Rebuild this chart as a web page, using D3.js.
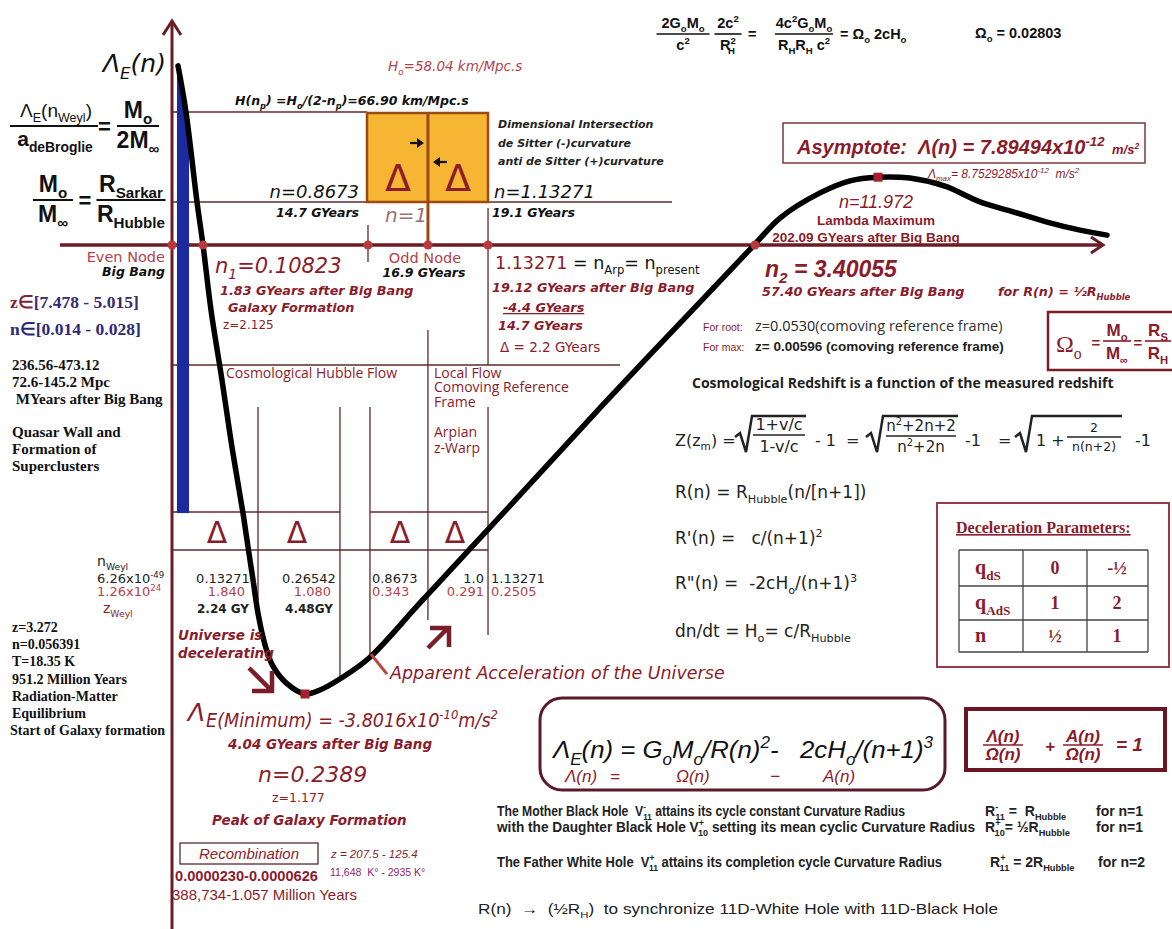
<!DOCTYPE html>
<html>
<head>
<meta charset="utf-8">
<script src="https://cdn.jsdelivr.net/npm/d3@7"></script>
<style>
  body { margin: 0; background: #fff; }
  svg { display: block; }
  text { white-space: pre; }
</style>
</head>
<body>
<script>
const width = 1172, height = 929;

// ---------------- values ----------------
// Λ_E(n) curve: u = place along the (schematic) n axis, v = Λ_E in diagram units (minimum = -100)
const curveU = [0.64, 1.49, 2.66, 3.30, 4.15, 5.32, 6.38, 7.55, 8.09, 8.62, 9.15, 9.89, 10.74, 12.23, 14.15,
                15.74, 18.19, 21.06, 26.38, 31.70, 36.70, 45.53, 56.17, 62.02, 64.68, 68.94, 72.13, 75.11,
                78.51, 82.23, 85.96, 89.47, 93.09, 96.60, 99.47];
const curveV = [39.9, 29.6, 9.6, 0, -14.5, -30.1, -45.0, -59.7, -67.3, -74.6, -82.0, -89.0, -93.8, -97.7, -100,
                -99.1, -96.2, -91.8, -79.7, -67.7, -56.4, -36.3, -12.7, 0.2, 6.0, 11.6, 14.3, 15.1,
                14.9, 13.1, 9.6, 7.4, 5.1, 3.3, 2.2];

// nodes on the n axis: Big Bang, n1, n=0.8673, n=1, n=1.13271, n2
const nodeLabels = ["0", "0.10823", "0.8673", "1", "1.13271", "3.40055"];
const nodeU = [0, 3.30, 20.85, 27.23, 33.62, 62.02];
const minPoint = [14.15, -100];   // Λ_E minimum, n = 0.2389
const maxPoint = [75.11, 15.1];   // Λ maximum, n = 11.972
const blueBand = [0.53, 1.81, 39.9, -59.7]; // u0, u1, vTop, vBottom

// Weyl table under the axis
const weylN = ["0.13271", "0.26542", "0.8673", "1.0", "1.13271"];
const weylZ = ["1.840", "1.080", "0.343", "0.291", "0.2505"];
const weylGY = ["2.24 GY", "4.48GY"];

// deceleration parameters
const decelRows = [["q", "dS"], ["q", "AdS"], ["n", ""]];
const decelA = ["0", "1", "½"];
const decelB = ["-½", "2", "1"];

// ---------------- styles ----------------
const INK = "#111", RED = "#8a1c2b", RED2 = "#b3424e", AXIS = "#6b1c24", GRID = "#5e2b2b",
      DOT = "#b83a3f", BLUE = "#1b2a9e";
const SANS = "'DejaVu Sans', Verdana, sans-serif";
const SERIF = "'Liberation Serif', 'Times New Roman', serif";
const ARIAL = "'Liberation Sans', Arial, sans-serif";
const NARROW = "'Liberation Sans Narrow', 'Liberation Sans', sans-serif";
const OPEN = "'Open Sans', sans-serif";

const svg = d3.select("body").append("svg").attr("width", width).attr("height", height);
svg.append("rect").attr("width", width).attr("height", height).attr("fill", "#fff");

const x = d3.scaleLinear().domain([0, 100]).range([172, 1112]);
const y = d3.scaleLinear().domain([-100, 0]).range([694, 245]);
const curveLine = d3.line().x(p => x(p[0])).y(p => y(p[1])).curve(d3.curveCatmullRom.alpha(0.5));

function line(x1, y1, x2, y2, c, w) {
  return svg.append("line").attr("x1", x1).attr("y1", y1).attr("x2", x2).attr("y2", y2)
    .attr("stroke", c || GRID).attr("stroke-width", w || 1.3);
}

// text with sub/superscripts: parts = [[str, 'sub'|'sup', colour, dx], ...]
function txt(px, py, parts, o = {}) {
  const size = o.size || 14;
  const t = svg.append("text").attr("x", px).attr("y", py)
    .attr("font-size", size).attr("font-family", o.font || SANS)
    .attr("fill", o.color || INK).attr("text-anchor", o.anchor || "start");
  if (o.italic) t.attr("font-style", "italic");
  if (o.bold) t.attr("font-weight", "bold");
  if (o.len) t.attr("textLength", o.len).attr("lengthAdjust", "spacingAndGlyphs");
  if (o.underline) t.attr("text-decoration", "underline");
  if (typeof parts === "string") parts = [[parts]];
  let cur = 0;
  parts.forEach(p => {
    if (typeof p === "string") p = [p];
    const [s, m, c, dx] = p;
    const shift = m === "sub" ? size * 0.28 : m === "sup" ? -size * 0.42 : 0;
    const ts = t.append("tspan").text(s).attr("dy", shift - cur);
    if (m) ts.attr("font-size", size * 0.66);
    if (c) ts.attr("fill", c);
    if (dx) ts.attr("dx", dx);
    cur = shift;
  });
  return t;
}

function frac(cx, yb, w, top, bot, o, g1, g2) {
  txt(cx, yb - g1, top, Object.assign({}, o, {anchor: "middle"}));
  txt(cx, yb + g2, bot, Object.assign({}, o, {anchor: "middle"}));
  line(cx - w / 2, yb, cx + w / 2, yb, o.color || INK, o.barW || 1.6);
}

function arrow(d, c, w) {
  svg.append("path").attr("d", d).attr("fill", "none").attr("stroke", c).attr("stroke-width", w);
}

/* ---------------- grid lines ---------------- */
line(172, 112, 367, 112);
line(172, 202, 672, 202);
line(172, 365, 620, 365);
line(172, 512, x(17.87), 512);
line(x(21.06), 512, x(33.62), 512);
line(172, 550, x(33.62), 550);
line(x(20.85), 225, x(20.85), 262);
line(x(33.62), 208, x(33.62), 365);
line(x(27.23), 330, x(27.23), 620);
[[9.15, 600], [17.87, 680], [21.06, 655], [33.62, 635]].forEach(d => line(x(d[0]), 407, x(d[0]), d[1]));

/* ---------------- orange box ---------------- */
svg.append("rect").attr("x", 367).attr("y", 113).attr("width", 121).attr("height", 89)
  .attr("fill", "#f6b533").attr("stroke", "#9a4a12").attr("stroke-width", 2.5);
line(x(27.23), 113, x(27.23), 245, "#9a4a12", 3);
txt(398, 191, "Δ", {size: 38, color: RED, anchor: "middle"});
txt(458, 191, "Δ", {size: 38, color: RED, anchor: "middle"});
arrow("M410,143L421,143", "#111", 2.2);
svg.append("path").attr("d", "M417,138L424,143L417,148Z").attr("fill", "#111");
arrow("M436,162L447,162", "#111", 2.2);
svg.append("path").attr("d", "M440,157L433,162L440,167Z").attr("fill", "#111");

/* ---------------- Δ row ---------------- */
[217, 297, 400, 455].forEach(cx => txt(cx, 543, "Δ", {size: 30, color: RED, anchor: "middle"}));

/* ---------------- axes ---------------- */
line(172, 929, 172, 22, AXIS, 3);
arrow("M163,35L172,21L181,35", AXIS, 3);
line(60, y(0), 1101, y(0), AXIS, 3.5);
arrow("M1091,237L1103,245L1091,253", AXIS, 3);

/* ---------------- blue band, clipped to the left of the curve ---------------- */
const pts = curveU.map((u, i) => [u, curveV[i]]);
const leftBranch = pts.filter(p => p[0] <= minPoint[0]);
svg.append("clipPath").attr("id", "leftOfCurve").append("path")
  .attr("d", curveLine([[0, leftBranch[0][1]]].concat(leftBranch).concat([[0, -100]])) + "Z");
svg.append("rect").attr("clip-path", "url(#leftOfCurve)")
  .attr("x", x(blueBand[0])).attr("width", x(blueBand[1]) - x(blueBand[0]))
  .attr("y", y(blueBand[2])).attr("height", y(blueBand[3]) - y(blueBand[2]))
  .attr("fill", BLUE);

/* ---------------- curve ---------------- */
svg.append("path").datum(pts)
  .attr("d", curveLine)
  .attr("fill", "none").attr("stroke", "#000").attr("stroke-width", 5.5)
  .attr("stroke-linecap", "round").attr("stroke-linejoin", "round");

svg.selectAll("circle.node").data(nodeU).enter().append("circle")
  .attr("cx", d => x(d)).attr("cy", y(0)).attr("r", 4.5).attr("fill", DOT);
[minPoint, maxPoint].forEach(p => svg.append("rect")
  .attr("x", x(p[0]) - 4.5).attr("y", y(p[1]) - 4.5).attr("width", 9).attr("height", 9).attr("fill", "#a3202c"));

// apparent acceleration tick and arrows
line(x(21.06) + 1, y(-91.8) - 3, x(21.06) + 17, y(-91.8) + 17, "#c2413f", 3);
arrow("M249,668L271,690M252,691L272,691L272,671", "#7a1f2a", 4.5);
arrow("M428,648L448,628M430,628L449,628L449,647", "#7a1f2a", 4.5);

/* ---------------- top-left formulas ---------------- */
txt(103, 72, [["Λ"], ["E", "sub"], ["(n)"]], {size: 25, italic: true});
txt(56, 117, [["Λ"], ["E", "sub"], ["(n"], ["Weyl", "sub"], [")"]], {size: 19, font: ARIAL, anchor: "middle"});
line(10, 126, 98, 126, INK, 2);
txt(55, 146, [["a"], ["deBroglie", "sub"]], {size: 21, bold: true, font: ARIAL, anchor: "middle"});
txt(98, 134, "=", {size: 22, bold: true, font: ARIAL});
frac(138, 126, 42, [["M"], ["o", "sub"]], [["2M"], ["∞", "sub"]], {size: 23, bold: true, font: ARIAL, barW: 2}, 8, 22);
frac(53, 200, 40, [["M"], ["o", "sub"]], [["M"], ["∞", "sub"]], {size: 23, bold: true, font: ARIAL, barW: 2}, 8, 22);
txt(85, 208, "=", {size: 22, bold: true, font: ARIAL, anchor: "middle"});
frac(131, 200, 69, [["R"], ["Sarkar", "sub"]], [["R"], ["Hubble", "sub"]], {size: 23, bold: true, font: ARIAL, barW: 2}, 8, 22);

/* ---------------- top-centre labels ---------------- */
txt(388, 71, [["H"], ["o", "sub"], ["=58.04 km/Mpc.s"]], {size: 13.5, italic: true, color: RED2});
txt(235, 105, [["H(n"], ["p", "sub"], [") =H"], ["o", "sub"], ["/(2-n"], ["p", "sub"], [")=66.90 km/Mpc.s"]], {size: 12.5, italic: true, bold: true});
txt(498, 128, "Dimensional Intersection", {size: 11, italic: true, bold: true, color: "#222"});
txt(498, 147, "de Sitter (-)curvature", {size: 11, italic: true, bold: true, color: "#222"});
txt(498, 165, "anti de Sitter (+)curvature", {size: 11, italic: true, bold: true, color: "#222"});
txt(359, 198, "n=0.8673", {size: 18, italic: true, anchor: "end"});
txt(359, 217, "14.7 GYears", {size: 12.5, italic: true, bold: true, anchor: "end"});
txt(385, 222, "n=1", {size: 20, italic: true, color: "#a07070"});
txt(494, 198, "n=1.13271", {size: 18, italic: true});
txt(492, 217, "19.1 GYears", {size: 12.5, italic: true, bold: true});

/* ---------------- along the axis ---------------- */
txt(165, 262, "Even Node", {size: 14.5, color: RED2, anchor: "end"});
txt(165, 276, "Big Bang", {size: 12.5, italic: true, bold: true, anchor: "end"});
txt(215, 273, [["n"], ["1", "sub"], ["=" + nodeLabels[1]]], {size: 21, italic: true, color: RED});
txt(220, 295, "1.83 GYears after Big Bang", {size: 12.8, italic: true, bold: true, color: RED});
txt(228, 312, "Galaxy Formation", {size: 12.8, italic: true, bold: true, color: RED});
txt(223, 329, "z=2.125", {size: 12, color: RED});
txt(425, 263, "Odd Node", {size: 14.5, color: RED2, anchor: "middle"});
txt(424, 277, "16.9 GYears", {size: 12.5, italic: true, bold: true, anchor: "middle"});
txt(495, 269, [[nodeLabels[4], "", RED], [" = n"], ["Arp", "sub"], ["= n"], ["present", "sub"]], {size: 17.5});
txt(492, 292, "19.12 GYears after Big Bang", {size: 12.8, italic: true, bold: true, color: RED});
txt(503, 312, "-4.4 GYears", {size: 12.8, italic: true, bold: true, color: RED, underline: true});
txt(498, 330, "14.7 GYears", {size: 12.8, italic: true, bold: true, color: RED});
txt(500, 352, "Δ = 2.2 GYears", {size: 13.5, color: RED});
txt(226, 378, "Cosmological Hubble Flow", {size: 14, font: OPEN, color: RED});
txt(434, 378, "Local Flow", {size: 14, font: OPEN, color: RED});
txt(434, 392, "Comoving Reference", {size: 14, font: OPEN, color: RED});
txt(434, 407, "Frame", {size: 14, font: OPEN, color: RED});
txt(434, 437, "Arpian", {size: 14, font: OPEN, color: RED});
txt(434, 453, "z-Warp", {size: 14, font: OPEN, color: RED});

txt(765, 277, [["n"], ["2", "sub"], [" = " + nodeLabels[5]]], {size: 23, italic: true, bold: true, color: RED, font: ARIAL});
txt(762, 296, "57.40 GYears after Big Bang", {size: 12.8, italic: true, bold: true, color: RED});
txt(998, 296, [["for R(n) = ½R"], ["Hubble", "sub"]], {size: 12.8, italic: true, bold: true, color: RED});

/* ---------------- top-right ---------------- */
const fo = {size: 14.5, bold: true, font: ARIAL};
frac(683, 34, 53, [["2G"], ["o", "sub"], ["M"], ["o", "sub"]], [["c"], ["2", "sup"]], fo, 6, 16);
frac(728, 34, 27, [["2c"], ["2", "sup"]], [["R"], ["2", "sup"], ["H", "sub", null, -8]], fo, 6, 16);
txt(748, 39, "=", fo);
frac(804, 34, 58, [["4c"], ["2", "sup"], ["G"], ["o", "sub"], ["M"], ["o", "sub"]], [["R"], ["H", "sub"], ["R"], ["H", "sub"], [" c"], ["2", "sup"]], fo, 6, 16);
txt(840, 39, [["= Ω"], ["o", "sub"], [" 2cH"], ["o", "sub"]], fo);
txt(975, 38, [["Ω"], ["o", "sub"], [" = 0.02803"]], fo);

svg.append("rect").attr("x", 783).attr("y", 123).attr("width", 362).attr("height", 40)
  .attr("fill", "none").attr("stroke", "#7a3a40").attr("stroke-width", 1.5);
txt(797, 154, [["Asymptote:  Λ(n) = 7.89494x10"], ["-12", "sup"]], {size: 20, italic: true, bold: true, color: RED, font: ARIAL});
txt(1112, 154, [["m/s"], ["2", "sup"]], {size: 13, italic: true, bold: true, color: RED, font: ARIAL});
txt(928, 178, [["Λ"], ["max", "sub"], ["= 8.7529285x10"], ["-12", "sup"], ["  m/s"], ["2", "sup"]], {size: 12, italic: true, color: RED, font: ARIAL});
txt(876, 208, "n=11.972", {size: 18, italic: true, color: RED, font: ARIAL, anchor: "middle"});
txt(876, 225, "Lambda Maximum", {size: 13.5, bold: true, color: RED, font: ARIAL, anchor: "middle"});
txt(866, 242, "202.09 GYears after Big Bang", {size: 13.5, bold: true, color: RED, font: ARIAL, anchor: "middle"});

txt(703, 331, "For root:", {size: 10.5, color: RED, font: ARIAL});
txt(755, 331, [["z=", "", "#333"], ["0.0530", "", "#222"], ["(comoving reference frame)", "", "#333"]], {size: 14.5, font: OPEN});
txt(703, 351, "For max:", {size: 10.5, color: RED, font: ARIAL});
txt(755, 351, "z= 0.00596 (comoving reference frame)", {size: 13.5, bold: true, font: ARIAL, color: "#222"});

svg.append("rect").attr("x", 1048).attr("y", 312).attr("width", 130).attr("height", 58)
  .attr("fill", "none").attr("stroke", "#7a1f2a").attr("stroke-width", 2.5);
const om = {size: 17, bold: true, font: ARIAL, color: RED};
txt(1056, 352, [["Ω"], ["o", "sub"]], {size: 24, font: SERIF, color: RED});
txt(1096, 348, "=", Object.assign({}, om, {anchor: "middle", size: 15}));
frac(1117, 341, 28, [["M"], ["o", "sub"]], [["M"], ["∞", "sub"]], om, 5, 18);
txt(1138, 348, "=", Object.assign({}, om, {anchor: "middle", size: 15}));
frac(1158, 341, 26, [["R"], ["S", "sub"]], [["R"], ["H", "sub"]], om, 5, 18);

txt(692, 388, "Cosmological Redshift is a function of the measured redshift", {size: 14, bold: true, font: OPEN, color: "#222"});

// Z formula
const zf = {size: 16, color: "#222"};
txt(675, 446, [["Z(z"], ["m", "sub"], [") ="]], zf);
[[735, 806], [866, 958], [1015, 1122]].forEach(s => arrow(
  `M${s[0]},437L${s[0] + 5},433L${s[0] + 11},452L${s[0] + 17},416L${s[1]},416`, "#222", 2.5));
frac(779, 435, 52, "1+v/c", "1-v/c", zf, 5, 17);
txt(815, 446, "- 1", zf);
txt(846, 446, "=", zf);
frac(921, 436, 70, [["n"], ["2", "sup"], ["+2n+2"]], [["n"], ["2", "sup"], ["+2n"]], {size: 15, color: "#222"}, 5, 16);
txt(965, 446, "-1", zf);
txt(998, 446, "=", zf);
txt(1036, 446, "1 +", zf);
frac(1094, 437, 54, "2", "n(n+2)", {size: 12.5, color: "#222"}, 5, 14);
txt(1135, 446, "-1", zf);

const rf = {size: 17, color: "#222"};
txt(675, 498, [["R(n) = R"], ["Hubble", "sub"], ["(n/[n+1])"]], rf);
txt(675, 544, [["R'(n) =   c/(n+1)"], ["2", "sup"]], rf);
txt(675, 589, [["R\"(n) =  -2cH"], ["o", "sub"], ["/(n+1)"], ["3", "sup"]], rf);
txt(675, 637, [["dn/dt = H"], ["o", "sub"], ["= c/R"], ["Hubble", "sub"]], rf);

// deceleration parameters
svg.append("rect").attr("x", 937).attr("y", 503).attr("width", 232).attr("height", 164)
  .attr("fill", "none").attr("stroke", "#9a3a44").attr("stroke-width", 2);
txt(956, 533, "Deceleration Parameters:", {size: 16, bold: true, font: SERIF, color: RED, underline: true});
const colX = [959, 1023, 1087, 1148], rowY = [550, 586, 620, 652];
colX.forEach(cx => line(cx, rowY[0], cx, rowY[3], "#444", 1.3));
rowY.forEach(ry => line(colX[0], ry, colX[3], ry, "#444", 1.3));
decelRows.forEach((r, i) => {
  const cy = (rowY[i] + rowY[i + 1]) / 2 + 6;
  txt(975, cy, [[r[0]], [r[1], "sub"]], {size: 20, bold: true, font: SERIF, color: RED});
  txt(1055, cy, decelA[i], {size: 18, bold: true, font: SERIF, color: RED, anchor: "middle"});
  txt(1117, cy, decelB[i], {size: 18, bold: true, font: SERIF, color: RED, anchor: "middle"});
});

/* ---------------- left column ---------------- */
txt(10, 308, [["z∈", "", "#7a2540"], ["[7.478 - 5.015]"]], {size: 17.5, bold: true, font: SERIF, color: "#3a2a70"});
txt(10, 335, [["n∈", "", "#2a2a78"], ["[0.014 - 0.028]"]], {size: 17.5, bold: true, font: SERIF, color: "#2a2a78"});
["236.56-473.12", "72.6-145.2 Mpc", " MYears after Big Bang"].forEach((s, i) =>
  txt(12, 370 + i * 17, s, {size: 15, bold: true, font: SERIF}));
["Quasar Wall and", "Formation of", "Superclusters"].forEach((s, i) =>
  txt(12, 437 + i * 17, s, {size: 15, bold: true, font: SERIF}));
["z=3.272", "n=0.056391", "T=18.35 K", "951.2 Million Years", "Radiation-Matter", "Equilibrium", "Start of Galaxy formation"]
  .forEach((s, i) => txt(i === 6 ? 10 : 12, 632 + i * 17.2, s, {size: 14, bold: true, font: SERIF}));

txt(97, 566, [["n"], ["Weyl", "sub"]], {size: 14, color: "#222"});
txt(97, 583, [["6.26x10"], ["-49", "sup"]], {size: 13, color: "#222"});
txt(97, 596, [["1.26x10"], ["24", "sup"]], {size: 13, color: RED2});
txt(103, 613, [["z"], ["Weyl", "sub"]], {size: 14, color: RED});

// Weyl table values: [anchor x, text-anchor] per column
const weylPos = [[223, "middle"], [309, "middle"], [x(21.06) + 2, "start"], [x(33.62) - 4, "end"], [x(33.62) + 3, "start"]];
weylN.forEach((s, i) => {
  const [cx, an] = weylPos[i];
  txt(cx, 583, s, {size: 13, color: "#222", anchor: an});
  txt(i < 2 ? cx + 22 : cx, 596, weylZ[i], {size: 13, color: RED2, anchor: i < 2 ? "end" : an});
  if (i < 2) txt(cx, 613, weylGY[i], {size: 12, bold: true, color: "#222", anchor: "middle"});
});

/* ---------------- bottom-left ---------------- */
txt(178, 640, "Universe is", {size: 13.5, italic: true, bold: true, color: RED});
txt(178, 658, "decelerating", {size: 13.5, italic: true, bold: true, color: RED});
txt(390, 679, "Apparent Acceleration of the Universe", {size: 17.5, italic: true, color: RED});
txt(188, 721, "Λ", {size: 25, italic: true, color: RED});
txt(206, 727, [["E(Minimum) = -3.8016x10"], ["-10", "sup"], ["m/s"], ["2", "sup"]], {size: 19, italic: true, color: RED, len: 292});
txt(228, 749, "4.04 GYears after Big Bang", {size: 13.5, italic: true, bold: true, color: RED});
txt(258, 782, "n=0.2389", {size: 22, italic: true, color: RED});
txt(272, 802, "z=1.177", {size: 12.5, color: RED});
txt(212, 825, "Peak of Galaxy Formation", {size: 13.5, italic: true, bold: true, color: RED});
svg.append("rect").attr("x", 180).attr("y", 843).attr("width", 138).attr("height", 21)
  .attr("fill", "none").attr("stroke", "#5a2a2a").attr("stroke-width", 1.3);
txt(249, 859, "Recombination", {size: 15, italic: true, color: RED, font: ARIAL, anchor: "middle"});
txt(331, 858, "z = 207.5 - 125.4", {size: 11.5, italic: true, color: RED, font: ARIAL});
txt(175, 881, "0.0000230-0.0000626", {size: 14, color: RED, font: ARIAL, bold: true, len: 143});
txt(330, 876, "11,648  K° - 2935 K°", {size: 10.5, color: "#8a2a6a", font: ARIAL});
txt(172, 900, "388,734-1.057 Million Years", {size: 15, color: RED, font: ARIAL, len: 185});

/* ---------------- bottom formula boxes ---------------- */
svg.append("rect").attr("x", 540).attr("y", 698).attr("width", 405).attr("height", 92).attr("rx", 22)
  .attr("fill", "none").attr("stroke", "#5a1a2a").attr("stroke-width", 3);
txt(553, 758, [["Λ"], ["E", "sub"], ["(n) = G"], ["o", "sub"], ["M"], ["o", "sub"], ["/R(n)"], ["2", "sup"], ["-   2cH"], ["o", "sub"], ["/(n+1)"], ["3", "sup"]],
  {size: 24, italic: true, font: ARIAL, len: 380});
const sf = {size: 17, italic: true, color: RED, font: ARIAL};
txt(565, 782, "Λ(n)", sf); txt(610, 782, "=", sf); txt(676, 782, "Ω(n)", sf); txt(770, 782, "−", sf); txt(823, 782, "A(n)", sf);

svg.append("rect").attr("x", 966).attr("y", 709).attr("width", 199).attr("height", 61)
  .attr("fill", "none").attr("stroke", "#6b1424").attr("stroke-width", 4);
const bf = {size: 17, italic: true, bold: true, color: RED, font: ARIAL};
frac(1003, 745, 40, "Λ(n)", "Ω(n)", Object.assign({barW: 1.3}, bf), 3, 15);
txt(1045, 752, "+", bf);
frac(1083, 745, 40, "A(n)", "Ω(n)", Object.assign({barW: 1.3}, bf), 3, 15);
txt(1116, 751, "= 1", {size: 19, italic: true, bold: true, color: RED, font: ARIAL});

const nf = {size: 14, bold: true, font: NARROW, color: "#222"};
txt(497, 816, [["The Mother Black Hole  V"], ["-", "sup"], ["11", "sub", null, -3], [" attains its cycle constant Curvature Radius"]], Object.assign({len: 408}, nf));
txt(985, 816, [["R"], ["-", "sup"], ["11", "sub", null, -3], [" =  R"], ["Hubble", "sub"]], nf);
txt(1096, 816, "for n=1", nf);
txt(497, 832, [["with the Daughter Black Hole V"], ["+", "sup"], ["10", "sub", null, -6], [" setting its mean cyclic Curvature Radius"]], Object.assign({len: 478}, nf));
txt(985, 832, [["R"], ["+", "sup"], ["10", "sub", null, -6], ["= ½R"], ["Hubble", "sub"]], nf);
txt(1096, 832, "for n=1", nf);
txt(497, 867, [["The Father White Hole  V"], ["+", "sup"], ["11", "sub", null, -6], [" attains its completion cycle Curvature Radius"]], Object.assign({len: 445}, nf));
txt(990, 867, [["R"], ["+", "sup"], ["11", "sub", null, -6], [" = 2R"], ["Hubble", "sub"]], nf);
txt(1098, 867, "for n=2", nf);
txt(478, 914, [["R(n)  →  (½R"], ["H", "sub"], [")  to synchronize 11D-White Hole with 11D-Black Hole"]], {size: 15, font: NARROW, color: "#222", len: 520});
</script>
</body>
</html>
